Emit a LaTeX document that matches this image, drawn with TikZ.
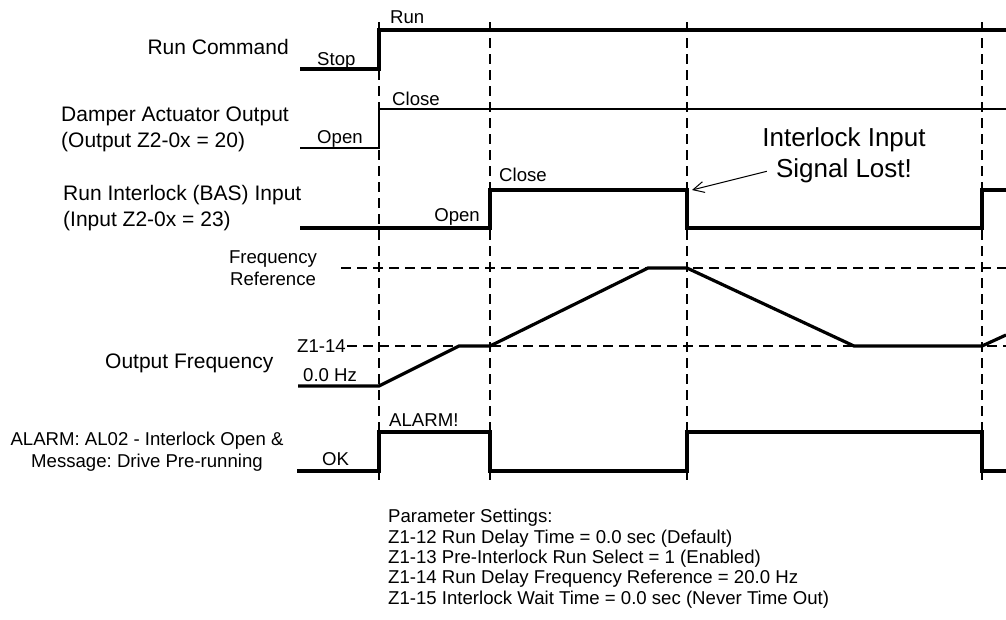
\documentclass[tikz,border=0pt]{standalone}
\usepackage{fontspec}
\setmainfont{Liberation Sans}
\usetikzlibrary{arrows.meta,positioning}
\frenchspacing

\begin{document}
\begin{tikzpicture}[
    x=1pt, y=-1pt,
    >={Straight Barb[length=11pt,width=11pt]},
    wave/.style={
        line width=3.2pt,
        line join=miter,
        line cap=butt
    },
    guide/.style={
        line width=1.2pt,
        dash pattern=on 10pt off 6pt
    },
    siglabel/.style={
        font=\fontsize{21}{26}\selectfont,
        inner sep=0pt,
        align=left
    },
    statelabel/.style={
        font=\fontsize{18.6}{22}\selectfont,
        inner sep=0pt,
        align=center
    },
    callout/.style={
        font=\fontsize{26}{30}\selectfont,
        inner sep=0pt
    },
    params/.style={
        font=\fontsize{18.6}{20.3}\selectfont,
        inner sep=0pt,
        align=left
    }
]
\useasboundingbox (0,0) rectangle (1006,619);

% Timing guides at each event
\foreach \t in {379,490,687,982}
    \draw[guide] (\t,22) -- (\t,485);

% Signal names (left column), base = last line
\node[siglabel, anchor=base east] (runname) at (289,54) {Run Command};
\node[siglabel, anchor=base west] (dampname) at (61,147) {Damper Actuator Output\\(Output Z2-0x = 20)};
\node[siglabel, anchor=base west] (lockname) at (63,226) {Run Interlock (BAS) Input\\(Input Z2-0x = 23)};
\node[statelabel, anchor=base] (fref) at (273,285) {Frequency\\Reference};
\node[siglabel, anchor=base west] (freqname) at (105,368) {Output Frequency};
\node[statelabel, anchor=base] (alarmname) at (147,467) {ALARM: AL02 - Interlock Open \&\\Message: Drive Pre-running};

% Run command
\draw[wave] (300,69) -- (379,69) -- (379,30) -- (1006,30);
\node[statelabel, anchor=base west] (runlo) at (317,65) {Stop};
\node[statelabel, anchor=base west] (runhi) at (390,23) {Run};

% Damper actuator output
\draw[wave, line width=2.6pt] (300,148) -- (379,148) -- (379,109) -- (1006,109);
\node[statelabel, anchor=base west] (damplo) at (317,143) {Open};
\node[statelabel, anchor=base west] (damphi) at (392,105) {Close};

% Run interlock input
\draw[wave] (300,228) -- (490,228) -- (490,190) -- (687,190) -- (687,228)
    -- (982,228) -- (982,190) -- (1006,190);
\node[statelabel, anchor=base east] (locklo) at (480,221) {Open};
\node[statelabel, anchor=base west] (lockhi) at (499,181) {Close};

% Lost signal callout
\node[callout, anchor=base] (lost1) at (844,146) {Interlock Input};
\node[callout, anchor=base] (lost2) at (844,177) {Signal Lost!};
\coordinate (lostpt) at (692,190);
\draw[->, line width=1pt] ([xshift=-9pt,yshift=-1pt]lost2.west) -- (lostpt);

% Output frequency
\node[statelabel, anchor=base east] (z114) at (346,352) {Z1-14};
\draw[guide] (341,268) -- (1006,268);
\draw[guide] ([xshift=1pt]z114.east |- 0,346) -- (1006,346);
\draw[wave] (298,386) -- (379,386) -- (459,346) -- (490,346) -- (648,268)
    -- (687,268) -- (854,346) -- (982,346) -- (1006,335);
\node[statelabel, anchor=base west] (hz0) at (303,381) {0.0 Hz};

% Alarm output
\draw[wave] (297,471) -- (379,471) -- (379,432) -- (490,432) -- (490,471)
    -- (687,471) -- (687,432) -- (982,432) -- (982,471) -- (1006,471);
\node[statelabel, anchor=base west] (alarmok) at (322,465) {OK};
\node[statelabel, anchor=base west] (alarmhi) at (389,426) {ALARM!};

% Parameter settings
\node[params, anchor=base west] (settings) at (388,604) {Parameter Settings:\\
    Z1-12 Run Delay Time = 0.0 sec (Default)\\
    Z1-13 Pre-Interlock Run Select = 1 (Enabled)\\
    Z1-14 Run Delay Frequency Reference = 20.0 Hz\\
    Z1-15 Interlock Wait Time = 0.0 sec (Never Time Out)};

\end{tikzpicture}
\end{document}
